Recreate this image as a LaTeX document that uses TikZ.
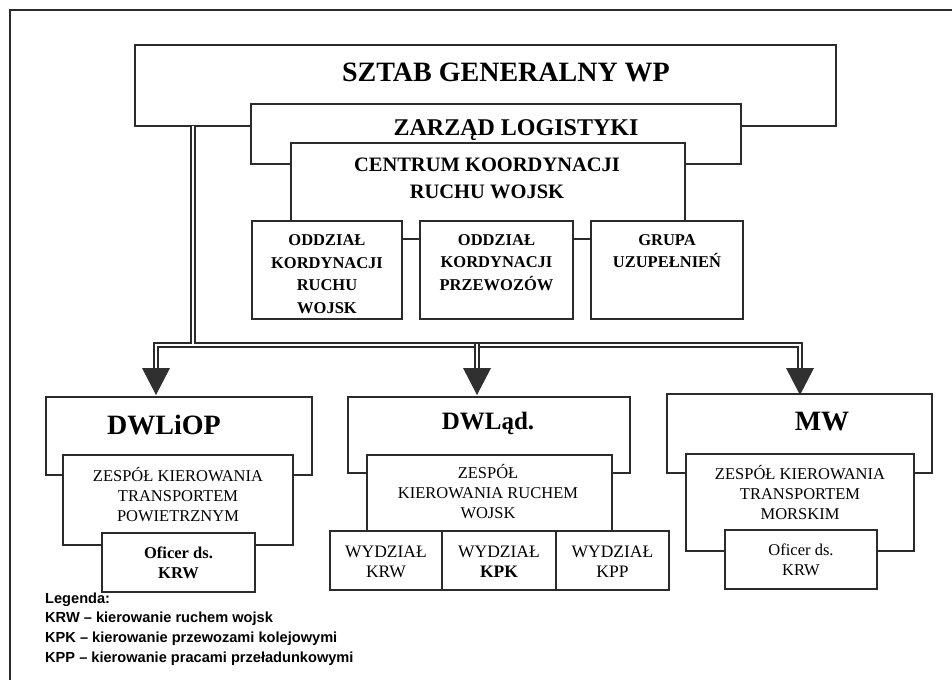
\documentclass[tikz,border=0pt]{standalone}
\usepackage{fontspec}
\setmainfont{Liberation Serif}
\newfontfamily\legfont{Liberation Sans}
\definecolor{linec}{HTML}{2B2B2B}
\definecolor{arrc}{HTML}{303030}
\begin{document}
\begin{tikzpicture}[x=1pt,y=-1pt,
  box/.style={draw=linec, line width=1.5pt, fill=white, inner sep=0pt},
  bx/.style n args={2}{minimum width=#1pt, minimum height=#2pt},
  dbl/.style={draw=linec, double=white, line width=1.5pt, double distance=2.4pt},
  txt/.style={inner sep=0pt, align=center, text=black},
  fs/.style n args={2}{font=\fontsize{#1}{#2}\selectfont},
  fsb/.style n args={2}{font=\fontsize{#1}{#2}\selectfont\bfseries},
  leg/.style={inner sep=0pt, anchor=west, font=\legfont\fontsize{14.6}{17}\selectfont\bfseries}
]
\useasboundingbox (0,0) rectangle (952,680);
% outer frame
\draw[linec, line width=1.5pt] (952,10) -- (10,10) -- (10,680);

% top hierarchy
\node[box, bx={701}{81}] (sztab) at (485.5,85.5) {};
\node[txt, fsb={28}{32}] (tsztab) at (506,72) {SZTAB GENERALNY WP};
\node[box, bx={490}{60}] (zarzad) at (496,134) {};
\node[txt, fsb={24}{28}] (tzarzad) at (516,130) {ZARZĄD LOGISTYKI};
\node[box, bx={394}{96}] (centrum) at (488,191) {};
\node[txt, fsb={20.5}{27}] (tcentrum) at (487,178.5) {CENTRUM KOORDYNACJI\\RUCHU WOJSK};
\node[box, bx={150}{98}] (okrw) at (327,270) {};
\node[txt, fsb={16.5}{22.6}] (tokrw) at (327,274) {ODDZIAŁ\\KORDYNACJI\\RUCHU\\WOJSK};
\node[box, bx={153}{98}] (okp) at (496.5,270) {};
\node[txt, fsb={16.5}{22.6}] (tokp) at (496.5,262.5) {ODDZIAŁ\\KORDYNACJI\\PRZEWOZÓW};
\node[box, bx={152}{98}] (grupa) at (667,270) {};
\node[txt, fsb={16.5}{21.5}] (tgrupa) at (667,251) {GRUPA\\UZUPEŁNIEŃ};

% connectors
\coordinate (a1) at (156,368);
\coordinate (a2) at (477,368);
\coordinate (a3) at (800,368);
\coordinate (bl) at (156,345);
\coordinate (br) at (800,345);
\coordinate (bm) at (477,344.2);
\coordinate (tr) at (193,126);
\coordinate (tb) at (193,344.2);
\draw[dbl] (a1) -- (bl) -- (br) -- (a3);
\draw[dbl] (tr) -- (tb);
\draw[dbl] (bm) -- (a2);
\foreach \a in {a1,a2,a3}
  \fill[arrc] (\a) ++(-14,0) -- ++(28,0) -- ++(-14,27) -- cycle;

% DWLiOP
\node[box, bx={266}{78}] (dwliop) at (179,436) {};
\node[txt, fsb={28}{32}] (tdwliop) at (164,425) {DWLiOP};
\node[box, bx={230}{90}] (zktp) at (178,500) {};
\node[txt, fs={16.5}{20}] (tzktp) at (178,495) {ZESPÓŁ KIEROWANIA\\TRANSPORTEM\\POWIETRZNYM};
\node[box, bx={153}{59}] (off1) at (178.5,562.5) {};
\node[txt, fsb={16.5}{20}] (toff1) at (178.5,563) {Oficer ds.\\KRW};

% DWLad
\node[box, bx={282}{76}] (dwlad) at (489,435) {};
\node[txt, fsb={25}{30}] (tdwlad) at (488,423) {DWLąd.};
\node[box, bx={245}{76}] (zkrw) at (489.5,493) {};
\node[txt, fs={16.5}{20}] (tzkrw) at (488,492) {ZESPÓŁ\\KIEROWANIA RUCHEM\\WOJSK};
\node[box, bx={112}{59}] (w1) at (386,560.5) {};
\node[box, bx={114}{59}] (w2) at (499,560.5) {};
\node[box, bx={113}{59}] (w3) at (612.5,560.5) {};
\node[txt, fs={17.5}{20}] (tw1) at (386,562) {WYDZIAŁ\\KRW};
\node[txt, fs={17.5}{20}] (tw2) at (499,562) {WYDZIAŁ\\\textbf{KPK}};
\node[txt, fs={17.5}{20}] (tw3) at (612.5,562) {WYDZIAŁ\\KPP};

% MW
\node[box, bx={265}{79}] (mw) at (799.5,433.5) {};
\node[txt, fsb={28}{32}] (tmw) at (822,422) {MW};
\node[box, bx={228}{97}] (zktm) at (800,502.5) {};
\node[txt, fs={16.5}{20}] (tzktm) at (800,492) {ZESPÓŁ KIEROWANIA\\TRANSPORTEM\\MORSKIM};
\node[box, bx={152}{59}] (off2) at (801,559.5) {};
\node[txt, fs={16.5}{20}] (toff2) at (801,560) {Oficer ds.\\KRW};

% legend
\node[leg] (lg0) at (45,600) {Legenda:};
\node[leg] (lg1) at (45,619) {KRW – kierowanie ruchem wojsk};
\node[leg] (lg2) at (45,639) {KPK – kierowanie przewozami kolejowymi};
\node[leg] (lg3) at (45,659) {KPP – kierowanie pracami przeładunkowymi};
\end{tikzpicture}
\end{document}
